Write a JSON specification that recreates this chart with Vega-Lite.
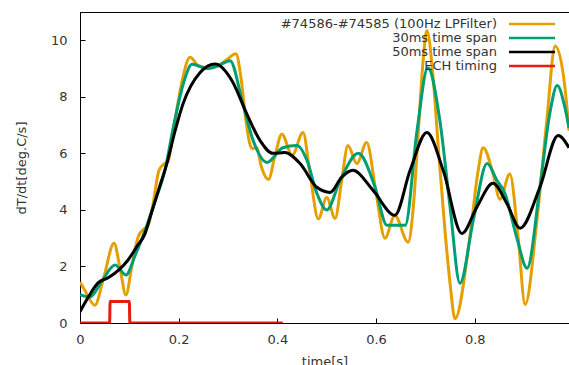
{
  "$schema": "https://vega.github.io/schema/vega-lite/v6.json",
  "width": 489,
  "height": 311,
  "autosize": {"type": "none"},
  "padding": {"left": 80, "top": 12, "right": 0, "bottom": 42},
  "config": {
    "view": {"stroke": "#000000", "strokeWidth": 1},
    "font": "DejaVu Sans",
    "axis": {"labelFont": "DejaVu Sans", "titleFont": "DejaVu Sans", "labelFontSize": 13, "titleFontSize": 13, "labelColor": "#333333", "titleColor": "#333333", "titleFontWeight": "normal", "domainColor": "#000000", "tickColor": "#000000", "grid": false, "labelFlush": false, "labelOverlap": false},
    "legend": {"labelFont": "DejaVu Sans", "labelFontSize": 13, "labelColor": "#333333", "labelLimit": 0}
  },
  "datasets": {
    "series": [
      {"s": "#74586-#74585 (100Hz LPFilter)", "t": 0.000, "v": 1.45},
      {"s": "#74586-#74585 (100Hz LPFilter)", "t": 0.010, "v": 1.15},
      {"s": "#74586-#74585 (100Hz LPFilter)", "t": 0.030, "v": 0.63},
      {"s": "#74586-#74585 (100Hz LPFilter)", "t": 0.048, "v": 1.6},
      {"s": "#74586-#74585 (100Hz LPFilter)", "t": 0.069, "v": 2.82},
      {"s": "#74586-#74585 (100Hz LPFilter)", "t": 0.081, "v": 1.95},
      {"s": "#74586-#74585 (100Hz LPFilter)", "t": 0.093, "v": 0.99},
      {"s": "#74586-#74585 (100Hz LPFilter)", "t": 0.105, "v": 2.0},
      {"s": "#74586-#74585 (100Hz LPFilter)", "t": 0.118, "v": 3.05},
      {"s": "#74586-#74585 (100Hz LPFilter)", "t": 0.128, "v": 3.3},
      {"s": "#74586-#74585 (100Hz LPFilter)", "t": 0.138, "v": 3.45},
      {"s": "#74586-#74585 (100Hz LPFilter)", "t": 0.148, "v": 4.2},
      {"s": "#74586-#74585 (100Hz LPFilter)", "t": 0.160, "v": 5.4},
      {"s": "#74586-#74585 (100Hz LPFilter)", "t": 0.170, "v": 5.62},
      {"s": "#74586-#74585 (100Hz LPFilter)", "t": 0.178, "v": 5.7},
      {"s": "#74586-#74585 (100Hz LPFilter)", "t": 0.190, "v": 6.9},
      {"s": "#74586-#74585 (100Hz LPFilter)", "t": 0.205, "v": 8.4},
      {"s": "#74586-#74585 (100Hz LPFilter)", "t": 0.223, "v": 9.4},
      {"s": "#74586-#74585 (100Hz LPFilter)", "t": 0.240, "v": 9.1},
      {"s": "#74586-#74585 (100Hz LPFilter)", "t": 0.262, "v": 9.02},
      {"s": "#74586-#74585 (100Hz LPFilter)", "t": 0.285, "v": 9.15},
      {"s": "#74586-#74585 (100Hz LPFilter)", "t": 0.300, "v": 9.35},
      {"s": "#74586-#74585 (100Hz LPFilter)", "t": 0.316, "v": 9.52},
      {"s": "#74586-#74585 (100Hz LPFilter)", "t": 0.326, "v": 8.7},
      {"s": "#74586-#74585 (100Hz LPFilter)", "t": 0.336, "v": 7.2},
      {"s": "#74586-#74585 (100Hz LPFilter)", "t": 0.344, "v": 6.35},
      {"s": "#74586-#74585 (100Hz LPFilter)", "t": 0.350, "v": 6.17},
      {"s": "#74586-#74585 (100Hz LPFilter)", "t": 0.358, "v": 6.2},
      {"s": "#74586-#74585 (100Hz LPFilter)", "t": 0.368, "v": 5.5},
      {"s": "#74586-#74585 (100Hz LPFilter)", "t": 0.382, "v": 5.08},
      {"s": "#74586-#74585 (100Hz LPFilter)", "t": 0.395, "v": 5.9},
      {"s": "#74586-#74585 (100Hz LPFilter)", "t": 0.409, "v": 6.68},
      {"s": "#74586-#74585 (100Hz LPFilter)", "t": 0.430, "v": 5.93},
      {"s": "#74586-#74585 (100Hz LPFilter)", "t": 0.452, "v": 6.74},
      {"s": "#74586-#74585 (100Hz LPFilter)", "t": 0.466, "v": 5.3},
      {"s": "#74586-#74585 (100Hz LPFilter)", "t": 0.483, "v": 3.68},
      {"s": "#74586-#74585 (100Hz LPFilter)", "t": 0.500, "v": 4.44},
      {"s": "#74586-#74585 (100Hz LPFilter)", "t": 0.517, "v": 3.7},
      {"s": "#74586-#74585 (100Hz LPFilter)", "t": 0.530, "v": 5.0},
      {"s": "#74586-#74585 (100Hz LPFilter)", "t": 0.543, "v": 6.28},
      {"s": "#74586-#74585 (100Hz LPFilter)", "t": 0.561, "v": 5.64},
      {"s": "#74586-#74585 (100Hz LPFilter)", "t": 0.581, "v": 6.38},
      {"s": "#74586-#74585 (100Hz LPFilter)", "t": 0.600, "v": 4.6},
      {"s": "#74586-#74585 (100Hz LPFilter)", "t": 0.618, "v": 3.0},
      {"s": "#74586-#74585 (100Hz LPFilter)", "t": 0.638, "v": 3.8},
      {"s": "#74586-#74585 (100Hz LPFilter)", "t": 0.665, "v": 2.86},
      {"s": "#74586-#74585 (100Hz LPFilter)", "t": 0.675, "v": 4.0},
      {"s": "#74586-#74585 (100Hz LPFilter)", "t": 0.685, "v": 6.6},
      {"s": "#74586-#74585 (100Hz LPFilter)", "t": 0.695, "v": 9.2},
      {"s": "#74586-#74585 (100Hz LPFilter)", "t": 0.703, "v": 10.35},
      {"s": "#74586-#74585 (100Hz LPFilter)", "t": 0.715, "v": 8.8},
      {"s": "#74586-#74585 (100Hz LPFilter)", "t": 0.727, "v": 6.0},
      {"s": "#74586-#74585 (100Hz LPFilter)", "t": 0.740, "v": 3.2},
      {"s": "#74586-#74585 (100Hz LPFilter)", "t": 0.750, "v": 1.4},
      {"s": "#74586-#74585 (100Hz LPFilter)", "t": 0.760, "v": 0.15},
      {"s": "#74586-#74585 (100Hz LPFilter)", "t": 0.790, "v": 3.03},
      {"s": "#74586-#74585 (100Hz LPFilter)", "t": 0.807, "v": 5.4},
      {"s": "#74586-#74585 (100Hz LPFilter)", "t": 0.817, "v": 6.2},
      {"s": "#74586-#74585 (100Hz LPFilter)", "t": 0.837, "v": 5.29},
      {"s": "#74586-#74585 (100Hz LPFilter)", "t": 0.851, "v": 4.38},
      {"s": "#74586-#74585 (100Hz LPFilter)", "t": 0.871, "v": 5.27},
      {"s": "#74586-#74585 (100Hz LPFilter)", "t": 0.888, "v": 3.03},
      {"s": "#74586-#74585 (100Hz LPFilter)", "t": 0.902, "v": 0.65},
      {"s": "#74586-#74585 (100Hz LPFilter)", "t": 0.926, "v": 3.63},
      {"s": "#74586-#74585 (100Hz LPFilter)", "t": 0.946, "v": 7.16},
      {"s": "#74586-#74585 (100Hz LPFilter)", "t": 0.963, "v": 9.8},
      {"s": "#74586-#74585 (100Hz LPFilter)", "t": 0.983, "v": 8.3},
      {"s": "#74586-#74585 (100Hz LPFilter)", "t": 0.991, "v": 6.8},

      {"s": "30ms time span", "t": 0.000, "v": 1.0},
      {"s": "30ms time span", "t": 0.020, "v": 0.92},
      {"s": "30ms time span", "t": 0.045, "v": 1.5},
      {"s": "30ms time span", "t": 0.071, "v": 2.05},
      {"s": "30ms time span", "t": 0.093, "v": 1.7},
      {"s": "30ms time span", "t": 0.112, "v": 2.4},
      {"s": "30ms time span", "t": 0.132, "v": 3.28},
      {"s": "30ms time span", "t": 0.152, "v": 4.3},
      {"s": "30ms time span", "t": 0.172, "v": 5.4},
      {"s": "30ms time span", "t": 0.190, "v": 7.0},
      {"s": "30ms time span", "t": 0.210, "v": 8.5},
      {"s": "30ms time span", "t": 0.227, "v": 9.15},
      {"s": "30ms time span", "t": 0.257, "v": 9.0},
      {"s": "30ms time span", "t": 0.280, "v": 9.1},
      {"s": "30ms time span", "t": 0.304, "v": 9.28},
      {"s": "30ms time span", "t": 0.330, "v": 7.76},
      {"s": "30ms time span", "t": 0.351, "v": 6.45},
      {"s": "30ms time span", "t": 0.379, "v": 5.68},
      {"s": "30ms time span", "t": 0.411, "v": 6.2},
      {"s": "30ms time span", "t": 0.440, "v": 6.28},
      {"s": "30ms time span", "t": 0.460, "v": 5.75},
      {"s": "30ms time span", "t": 0.480, "v": 4.59},
      {"s": "30ms time span", "t": 0.500, "v": 4.0},
      {"s": "30ms time span", "t": 0.527, "v": 5.04},
      {"s": "30ms time span", "t": 0.564, "v": 6.0},
      {"s": "30ms time span", "t": 0.598, "v": 4.8},
      {"s": "30ms time span", "t": 0.622, "v": 3.46},
      {"s": "30ms time span", "t": 0.659, "v": 3.46},
      {"s": "30ms time span", "t": 0.683, "v": 6.8},
      {"s": "30ms time span", "t": 0.705, "v": 9.03},
      {"s": "30ms time span", "t": 0.729, "v": 7.2},
      {"s": "30ms time span", "t": 0.750, "v": 4.1},
      {"s": "30ms time span", "t": 0.770, "v": 1.41},
      {"s": "30ms time span", "t": 0.797, "v": 3.63},
      {"s": "30ms time span", "t": 0.825, "v": 5.64},
      {"s": "30ms time span", "t": 0.845, "v": 5.04},
      {"s": "30ms time span", "t": 0.861, "v": 4.59},
      {"s": "30ms time span", "t": 0.885, "v": 3.03},
      {"s": "30ms time span", "t": 0.906, "v": 1.94},
      {"s": "30ms time span", "t": 0.932, "v": 4.8},
      {"s": "30ms time span", "t": 0.952, "v": 7.4},
      {"s": "30ms time span", "t": 0.967, "v": 8.4},
      {"s": "30ms time span", "t": 0.983, "v": 7.6},
      {"s": "30ms time span", "t": 0.991, "v": 6.9},

      {"s": "50ms time span", "t": 0.000, "v": 0.4},
      {"s": "50ms time span", "t": 0.018, "v": 0.95},
      {"s": "50ms time span", "t": 0.036, "v": 1.41},
      {"s": "50ms time span", "t": 0.057, "v": 1.6},
      {"s": "50ms time span", "t": 0.080, "v": 1.9},
      {"s": "50ms time span", "t": 0.097, "v": 2.22},
      {"s": "50ms time span", "t": 0.115, "v": 2.7},
      {"s": "50ms time span", "t": 0.132, "v": 3.17},
      {"s": "50ms time span", "t": 0.142, "v": 3.74},
      {"s": "50ms time span", "t": 0.160, "v": 4.75},
      {"s": "50ms time span", "t": 0.176, "v": 5.64},
      {"s": "50ms time span", "t": 0.192, "v": 6.75},
      {"s": "50ms time span", "t": 0.209, "v": 7.76},
      {"s": "50ms time span", "t": 0.243, "v": 8.85},
      {"s": "50ms time span", "t": 0.274, "v": 9.16},
      {"s": "50ms time span", "t": 0.308, "v": 8.57},
      {"s": "50ms time span", "t": 0.338, "v": 7.4},
      {"s": "50ms time span", "t": 0.365, "v": 6.45},
      {"s": "50ms time span", "t": 0.391, "v": 6.0},
      {"s": "50ms time span", "t": 0.415, "v": 6.03},
      {"s": "50ms time span", "t": 0.446, "v": 5.64},
      {"s": "50ms time span", "t": 0.480, "v": 4.8},
      {"s": "50ms time span", "t": 0.507, "v": 4.62},
      {"s": "50ms time span", "t": 0.530, "v": 5.15},
      {"s": "50ms time span", "t": 0.553, "v": 5.4},
      {"s": "50ms time span", "t": 0.594, "v": 4.69},
      {"s": "50ms time span", "t": 0.638, "v": 3.81},
      {"s": "50ms time span", "t": 0.669, "v": 5.4},
      {"s": "50ms time span", "t": 0.703, "v": 6.74},
      {"s": "50ms time span", "t": 0.736, "v": 5.4},
      {"s": "50ms time span", "t": 0.774, "v": 3.17},
      {"s": "50ms time span", "t": 0.804, "v": 4.09},
      {"s": "50ms time span", "t": 0.837, "v": 4.94},
      {"s": "50ms time span", "t": 0.865, "v": 4.23},
      {"s": "50ms time span", "t": 0.892, "v": 3.35},
      {"s": "50ms time span", "t": 0.932, "v": 4.8},
      {"s": "50ms time span", "t": 0.969, "v": 6.63},
      {"s": "50ms time span", "t": 0.991, "v": 6.2},

      {"s": "ECH timing", "t": 0.000, "v": 0.0},
      {"s": "ECH timing", "t": 0.060, "v": 0.0},
      {"s": "ECH timing", "t": 0.061, "v": 0.76},
      {"s": "ECH timing", "t": 0.100, "v": 0.76},
      {"s": "ECH timing", "t": 0.101, "v": 0.0},
      {"s": "ECH timing", "t": 0.411, "v": 0.0}
    ]
  },
  "data": {"name": "series"},
  "mark": {"type": "line", "interpolate": "monotone", "strokeWidth": 3, "clip": true},
  "encoding": {
    "x": {"field": "t", "type": "quantitative",
      "scale": {"domain": [0, 0.991], "nice": false, "zero": false},
      "axis": {"title": "time[s]", "values": [0, 0.2, 0.4, 0.6, 0.8], "format": "~g", "tickSize": -5, "labelPadding": 15, "titlePadding": 9}},
    "y": {"field": "v", "type": "quantitative",
      "scale": {"domain": [0, 11], "nice": false},
      "axis": {"title": "dT/dt[deg.C/s]", "values": [0, 2, 4, 6, 8, 10], "tickSize": -5, "labelPadding": 18, "titlePadding": 22}},
    "color": {"field": "s", "type": "nominal",
      "scale": {"domain": ["#74586-#74585 (100Hz LPFilter)", "30ms time span", "50ms time span", "ECH timing"], "range": ["#E69F00", "#009E73", "#000000", "#E51E10"]},
      "legend": {"title": null, "orient": "none", "legendX": 445, "legendY": 5, "symbolType": "M-4,0H4", "symbolSize": 132, "symbolStrokeWidth": 2.5, "labelAlign": "right", "labelOffset": -42, "padding": 0, "rowPadding": -2}},
    "order": {"field": "s"}
  }
}
